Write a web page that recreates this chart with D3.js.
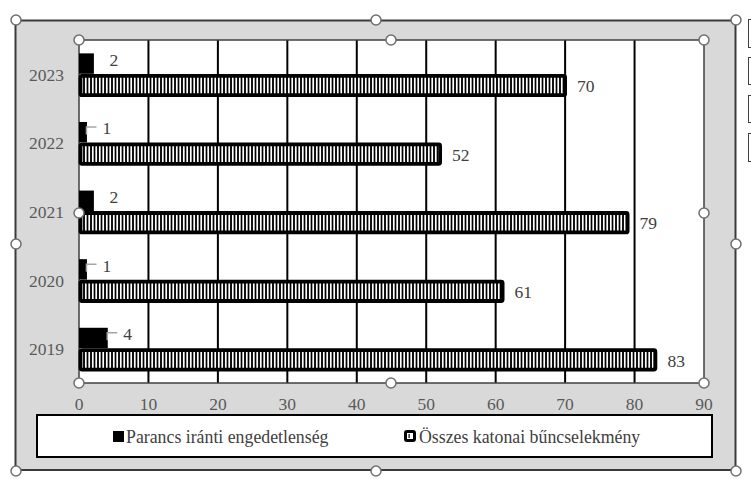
<!DOCTYPE html>
<html>
<head>
<meta charset="utf-8">
<script src="https://cdn.jsdelivr.net/npm/d3@7"></script>
<style>
  html, body { margin: 0; padding: 0; background: #fff; }
  svg { display: block; }
</style>
</head>
<body>
<svg id="chart" width="751" height="479"></svg>
<script>
// ---- data ----
const years = ["2023", "2022", "2021", "2020", "2019"];
const seriesNames = ["Parancs iránti engedetlenség", "Összes katonai bűncselekmény"];
const parancsValues = [2, 1, 2, 1, 4];
const osszesValues = [70, 52, 79, 61, 83];
const xTicks = [0, 10, 20, 30, 40, 50, 60, 70, 80, 90];
const leaderYears = ["2022", "2020", "2019"];

// ---- layout ----
const FONT = "'Liberation Serif', 'Times New Roman', 'DejaVu Serif', 'Noto Serif', serif";
const W = 751, H = 479;
const outer = { x: 15.5, y: 20.5, w: 720, h: 449.5 };
const plot = { left: 79, right: 704, top: 40, bottom: 383 };
const svg = d3.select("#chart").attr("font-family", FONT);

svg.append("rect").attr("width", W).attr("height", H).attr("fill", "#fff");

// pattern for hatched bars (vertical white stripes on black)
const defs = svg.append("defs");
const pat = defs.append("pattern").attr("id", "vstripe")
  .attr("patternUnits", "userSpaceOnUse").attr("width", 3.5).attr("height", 10);
pat.append("rect").attr("width", 3.5).attr("height", 10).attr("fill", "#000");
pat.append("rect").attr("x", 1).attr("width", 1.8).attr("height", 10).attr("fill", "#fff")
  .attr("shape-rendering", "crispEdges");

// right edge fragments
[[19, 28], [57, 27], [95, 27], [133, 28]].forEach(([yy, h]) => {
  svg.append("rect").attr("x", 748.5).attr("y", yy + 0.5).attr("width", 20).attr("height", h)
    .attr("fill", "#fff").attr("stroke", "#404040").attr("stroke-width", 1);
});

// outer frame
svg.append("rect").attr("x", outer.x).attr("y", outer.y).attr("width", outer.w).attr("height", outer.h)
  .attr("fill", "#d9d9d9").attr("stroke", "#3a3a3a").attr("stroke-width", 2);

// plot area
svg.append("rect").attr("x", plot.left).attr("y", plot.top)
  .attr("width", plot.right - plot.left).attr("height", plot.bottom - plot.top)
  .attr("fill", "#fff");

const x = d3.scaleLinear().domain([0, 90]).range([plot.left, plot.right]);
const y = d3.scaleBand().domain(years).range([plot.top, plot.bottom])
  .paddingInner(0.39).paddingOuter(0.195);
const ySub = d3.scaleBand().domain(seriesNames).range([0, y.bandwidth()]);

// gridlines
svg.append("g").selectAll("line").data(xTicks.filter(t => t > 0 && t < 90)).join("line")
  .attr("x1", d => x(d)).attr("x2", d => x(d))
  .attr("y1", plot.top).attr("y2", plot.bottom)
  .attr("stroke", "#000").attr("stroke-width", 2);

// plot border
svg.append("rect").attr("x", plot.left).attr("y", plot.top)
  .attr("width", plot.right - plot.left).attr("height", plot.bottom - plot.top)
  .attr("fill", "none").attr("stroke", "#404040").attr("stroke-width", 1.5);

const rows = years.map((yr, i) => ({ year: yr, p: parancsValues[i], o: osszesValues[i] }));

// hatched bars (Összes)
svg.append("g").selectAll("rect").data(rows).join("rect")
  .attr("x", x(0) + 1.5)
  .attr("y", d => y(d.year) + ySub(seriesNames[1]) + 1.5)
  .attr("width", d => x(d.o) - x(0) - 1.5)
  .attr("height", ySub.bandwidth() - 1.5)
  .attr("fill", "url(#vstripe)")
  .attr("stroke", "#000").attr("stroke-width", 3.8).attr("rx", 1.5);

// black bars (Parancs)
svg.append("g").selectAll("rect").data(rows).join("rect")
  .attr("x", x(0))
  .attr("y", d => y(d.year) + ySub(seriesNames[0]))
  .attr("width", d => x(d.p) - x(0) + 1)
  .attr("height", ySub.bandwidth() - 0.5)
  .attr("fill", "#000");

// leaders
svg.append("g").selectAll("path").data(rows.filter(d => leaderYears.includes(d.year))).join("path")
  .attr("d", d => {
    const ly = y(d.year) + ySub(seriesNames[0]) + ySub.bandwidth() / 2 - 4;
    const lx = x(d.p) + 0.5;
    return `M${lx},${ly + 6} V${ly - 1.5} H${lx + 10}`;
  })
  .attr("fill", "none").attr("stroke", "#a6a6a6").attr("stroke-width", 1.5);

// data labels
const labelStyle = sel => sel.attr("font-size", 17.5).attr("fill", "#404040").attr("dominant-baseline", "central");
svg.append("g").selectAll("text").data(rows).join("text")
  .attr("x", d => x(d.p) + 16.5)
  .attr("y", d => y(d.year) + ySub(seriesNames[0]) + ySub.bandwidth() / 2 - 4)
  .text(d => d.p).call(labelStyle);
svg.append("g").selectAll("text").data(rows).join("text")
  .attr("x", d => x(d.o) + 12)
  .attr("y", d => y(d.year) + ySub(seriesNames[1]) + ySub.bandwidth() / 2 + 1.5)
  .text(d => d.o).call(labelStyle);

// y axis labels
svg.append("g").selectAll("text").data(years).join("text")
  .attr("x", 64).attr("y", d => y(d) + y.bandwidth() / 2 + 0.5)
  .attr("text-anchor", "end").attr("dominant-baseline", "central")
  .attr("font-size", 17.5).attr("fill", "#595959").text(d => d);

// x tick labels
svg.append("g").selectAll("text").data(xTicks).join("text")
  .attr("x", d => x(d)).attr("y", 404)
  .attr("text-anchor", "middle").attr("dominant-baseline", "central")
  .attr("font-size", 17.5).attr("fill", "#595959").text(d => d);

// legend
svg.append("rect").attr("x", 37).attr("y", 415).attr("width", 675).attr("height", 42)
  .attr("fill", "#fff").attr("stroke", "#000").attr("stroke-width", 2);
svg.append("rect").attr("x", 113).attr("y", 431).attr("width", 11).attr("height", 11).attr("fill", "#000");
svg.append("text").attr("x", 126).attr("y", 437).attr("dominant-baseline", "central")
  .attr("font-size", 17.8).attr("fill", "#404040").text(seriesNames[0]);
svg.append("rect").attr("x", 405.5).attr("y", 431.5).attr("width", 9).attr("height", 9)
  .attr("fill", "#fff").attr("stroke", "#000").attr("stroke-width", 3).attr("rx", 1.5);
svg.append("rect").attr("x", 408.5).attr("y", 434).attr("width", 1.2).attr("height", 4).attr("fill", "#000");
svg.append("text").attr("x", 419).attr("y", 437).attr("dominant-baseline", "central")
  .attr("font-size", 17.8).attr("fill", "#404040").text(seriesNames[1]);

// selection handles
const handles = [
  [16, 20], [376, 20], [736, 20], [16, 244], [736, 244], [16, 471], [376, 471], [736, 471],
  [plot.left, plot.top], [391, plot.top], [plot.right, plot.top],
  [plot.left, 213], [plot.right, 213],
  [plot.left, plot.bottom], [391, plot.bottom], [plot.right, plot.bottom]
];
svg.append("g").selectAll("circle").data(handles).join("circle")
  .attr("cx", d => d[0]).attr("cy", d => d[1]).attr("r", 5)
  .attr("fill", "#fff").attr("stroke", "#6f6f6f").attr("stroke-width", 1.5);
</script>
</body>
</html>
